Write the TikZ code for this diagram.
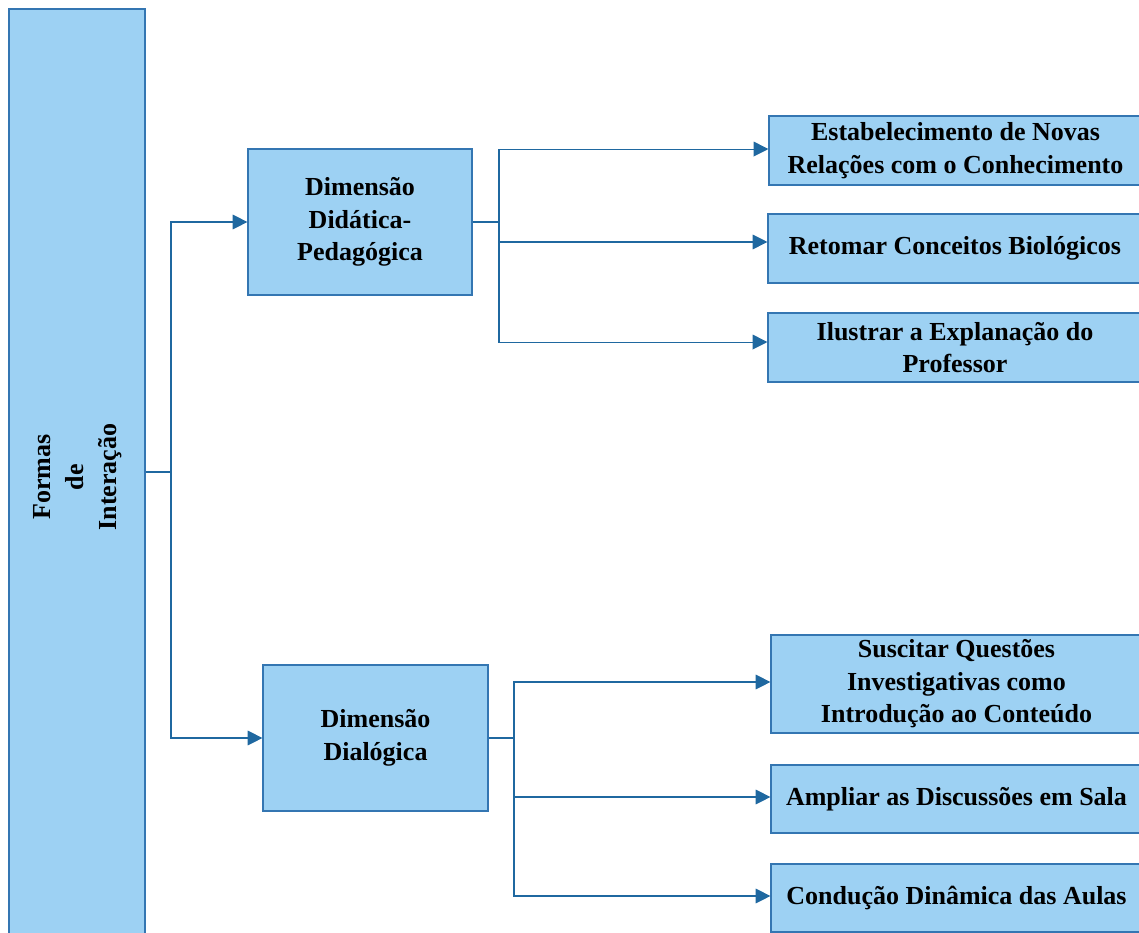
\documentclass[tikz,border=0pt]{standalone}
\usepackage{fontspec}
\setmainfont{Liberation Serif}
\usetikzlibrary{arrows.meta}
\definecolor{boxfill}{RGB}{157,209,243}
\definecolor{boxline}{RGB}{52,118,178}
\definecolor{linkcol}{RGB}{31,104,160}
\begin{document}
\begin{tikzpicture}[x=0.75pt,y=-0.75pt,
  box/.style={draw=boxline,fill=boxfill,line width=0.9pt,align=center,inner sep=2pt,
    font=\fontsize{19.5}{24.4}\selectfont\bfseries},
  link/.style={draw=linkcol,line width=0.8pt},
  arr/.style={link,-{Triangle[length=11pt,width=11pt]}}]
\useasboundingbox (0,0) rectangle (1139,932);
\begin{scope}
\clip (0,0) rectangle (1139,932);
% root
\node[box,minimum width=102pt,minimum height=702pt] (root) at (77,477)
  {\rotatebox{90}{\begin{tabular}{@{}c@{}}Formas\\de\\Interação\end{tabular}}};
% second level
\node[box,minimum width=168pt,minimum height=109.5pt] (ddp) at (360,222)
  {Dimensão\\Didática-\\Pedagógica};
\node[box,minimum width=168.75pt,minimum height=109.5pt] (dd) at (375.5,738)
  {Dimensão\\Dialógica};
% third level
\node[box,minimum width=279.75pt,minimum height=51.75pt] (a1) at (955.5,150.5)
  {Estabelecimento de Novas\\Relações com o Conhecimento};
\node[box,minimum width=280.5pt,minimum height=51.75pt] (a2) at (955,248.5)
  {Retomar Conceitos Biológicos};
\node[box,minimum width=280.5pt,minimum height=51.75pt] (a3) at (955,347.5)
  {Ilustrar a Explanação do\\Professor};
\node[box,minimum width=278.25pt,minimum height=73.5pt] (b1) at (956.5,684)
  {Suscitar Questões\\Investigativas como\\Introdução ao Conteúdo};
\node[box,minimum width=278.25pt,minimum height=51pt] (b2) at (956.5,799)
  {Ampliar as Discussões em Sala};
\node[box,minimum width=278.25pt,minimum height=51pt] (b3) at (956.5,898)
  {Condução Dinâmica das Aulas};
% connectors
\coordinate (rj) at (171,472);
\draw[link] ([yshift=3.75pt]root.east) -- (rj);
\draw[arr] (rj) |- (ddp.west);
\draw[arr] (rj) |- (dd.west);
\coordinate (pj) at (499,222);
\draw[link] (ddp.east) -- (pj);
\draw[arr] (pj) |- ([yshift=1.1pt]a1.west);
\draw[arr] (pj) |- ([yshift=4.9pt]a2.west);
\draw[arr] (pj) |- ([yshift=4.1pt]a3.west);
\coordinate (qj) at (514,738);
\draw[link] (dd.east) -- (qj);
\draw[arr] (qj) |- ([yshift=1.5pt]b1.west);
\draw[arr] (qj) |- ([yshift=1.5pt]b2.west);
\draw[arr] (qj) |- ([yshift=1.5pt]b3.west);
\end{scope}
\end{tikzpicture}
\end{document}
